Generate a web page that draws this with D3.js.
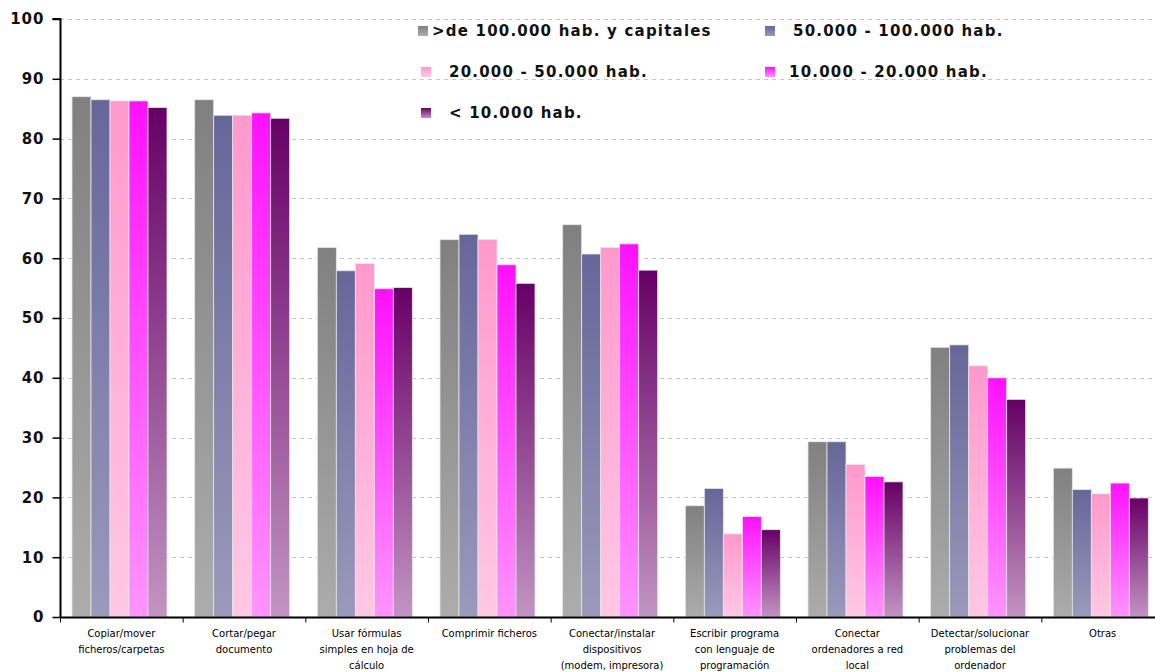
<!DOCTYPE html>
<html>
<head>
<meta charset="utf-8">
<script src="https://cdn.jsdelivr.net/npm/d3@7.9.0/dist/d3.min.js"></script>
<style>
  body { margin: 0; background: #fff; }
  svg { display: block; }
</style>
</head>
<body>
<svg id="chart" width="1155" height="672"></svg>
<script>
const categories = [
  ['Copiar/mover', 'ficheros/carpetas'],
  ['Cortar/pegar', 'documento'],
  ['Usar fórmulas', 'simples en hoja de', 'cálculo'],
  ['Comprimir ficheros'],
  ['Conectar/instalar', 'dispositivos', '(modem, impresora)'],
  ['Escribir programa', 'con lenguaje de', 'programación'],
  ['Conectar', 'ordenadores a red', 'local'],
  ['Detectar/solucionar', 'problemas del', 'ordenador'],
  ['Otras']
];

const seriesNames = [
  '>de 100.000 hab. y capitales',
  '50.000 - 100.000 hab.',
  '20.000 - 50.000 hab.',
  '10.000 - 20.000 hab.',
  '< 10.000 hab.'
];

const capitales = [87.0, 86.5, 61.8, 63.1, 65.6, 18.6, 29.3, 45.1, 24.9];
const de50a100  = [86.5, 83.9, 57.9, 64.0, 60.7, 21.5, 29.3, 45.5, 21.3];
const de20a50   = [86.3, 83.9, 59.1, 63.1, 61.8, 13.9, 25.5, 42.0, 20.6];
const de10a20   = [86.3, 84.3, 54.9, 58.9, 62.4, 16.8, 23.5, 40.0, 22.4];
const menos10   = [85.2, 83.4, 55.1, 55.8, 58.0, 14.6, 22.6, 36.4, 19.9];

const yTicks = [0, 10, 20, 30, 40, 50, 60, 70, 80, 90, 100];

// top/bottom colours of each series gradient
const gradTop = ['#808080', '#666699', '#ff99cc', '#ff10ff', '#660066'];
const gradBottom = ['#acacac', '#9a9abc', '#ffc8e4', '#ff94ff', '#c294c2'];

const allSeries = [capitales, de50a100, de20a50, de10a20, menos10];

const svg = d3.select('#chart');
const mLeft = 60, mTop = 19, mBottom = 617, mRight = 1164;

const x0 = d3.scaleBand().domain(d3.range(categories.length)).range([mLeft, mRight]);
const x1 = d3.scaleBand().domain(d3.range(seriesNames.length)).range([12, 107]);
const y = d3.scaleLinear().domain([0, 100]).range([mBottom, mTop]);

const defs = svg.append('defs');
gradTop.forEach((c, i) => {
  let g = defs.append('linearGradient')
    .attr('id', 'g' + i)
    .attr('x1', 0).attr('y1', 0).attr('x2', 0).attr('y2', 1);
  g.append('stop').attr('offset', '0%').attr('stop-color', c);
  g.append('stop').attr('offset', '100%').attr('stop-color', gradBottom[i]);
});

// gridlines
svg.append('g')
  .selectAll('line')
  .data(yTicks.filter(d => d > 0))
  .enter()
  .append('line')
  .attr('x1', mLeft).attr('x2', 1155)
  .attr('y1', d => Math.round(y(d)) + 0.5)
  .attr('y2', d => Math.round(y(d)) + 0.5)
  .attr('stroke', '#c4c4c4')
  .attr('stroke-dasharray', '4,4');

// bars
allSeries.forEach((vals, s) => {
  svg.append('g')
    .selectAll('rect')
    .data(vals)
    .enter()
    .append('rect')
    .attr('x', (d, i) => x0(i) + x1(s))
    .attr('y', d => y(d))
    .attr('width', x1.bandwidth())
    .attr('height', d => mBottom - y(d))
    .attr('fill', `url(#g${s})`)
    .attr('stroke', '#e6e6e6')
    .attr('stroke-width', 0.8);
});

// y axis
const yAxis = d3.axisLeft(y).tickValues(yTicks).tickSize(8).tickPadding(8);
const yg = svg.append('g')
  .attr('transform', `translate(${mLeft + 0.5},0)`)
  .call(yAxis);
yg.select('.domain').attr('stroke', '#000').attr('stroke-width', 2).attr('d', `M-8,${mTop}H0V${mBottom}`);
yg.selectAll('.tick line').attr('stroke', '#000').attr('stroke-width', 1.5);
yg.selectAll('.tick text')
  .attr('font-family', 'DejaVu Sans, Verdana, sans-serif')
  .attr('font-weight', 'bold')
  .attr('font-size', 15)
  .attr('letter-spacing', 1)
  .attr('fill', '#111');

// x axis
const xAxis = d3.axisBottom(d3.scaleLinear().domain([0, categories.length]).range([mLeft, mRight]))
  .tickValues(d3.range(categories.length + 1)).tickSize(5).tickFormat('');
const xg = svg.append('g')
  .attr('transform', `translate(0,${mBottom + 0.5})`)
  .call(xAxis);
xg.select('.domain').attr('stroke', '#000').attr('stroke-width', 2).attr('d', `M${mLeft},0H${mRight}`);
xg.selectAll('.tick line').attr('stroke', '#000');

// category labels
const catG = svg.append('g');
categories.forEach((lines, i) => {
  let t = catG.append('text')
    .attr('x', x0(i) + x0.bandwidth() / 2)
    .attr('y', 637)
    .attr('text-anchor', 'middle')
    .attr('font-family', 'DejaVu Sans, Tahoma, sans-serif')
    .attr('font-size', 10)
    .attr('fill', '#000');
  lines.forEach((ln, k) => {
    t.append('tspan').attr('x', x0(i) + x0.bandwidth() / 2).attr('dy', k === 0 ? 0 : 16).text(ln);
  });
});

// legend
const legendPos = [
  { sx: 418, tx: 432, y: 31 },
  { sx: 765, tx: 793, y: 31 },
  { sx: 421, tx: 449, y: 72 },
  { sx: 765, tx: 789, y: 72 },
  { sx: 421, tx: 449, y: 113 }
];
const legend = svg.append('g');
seriesNames.forEach((name, i) => {
  let p = legendPos[i];
  legend.append('rect')
    .attr('x', p.sx).attr('y', p.y - 5)
    .attr('width', 10).attr('height', 10)
    .attr('fill', `url(#g${i})`);
  legend.append('text')
    .attr('x', p.tx).attr('y', p.y + 5)
    .attr('font-family', 'DejaVu Sans, Verdana, sans-serif')
    .attr('font-weight', 'bold')
    .attr('font-size', 15)
    .attr('letter-spacing', 1.2)
    .attr('fill', '#111')
    .text(name);
});
</script>
</body>
</html>
